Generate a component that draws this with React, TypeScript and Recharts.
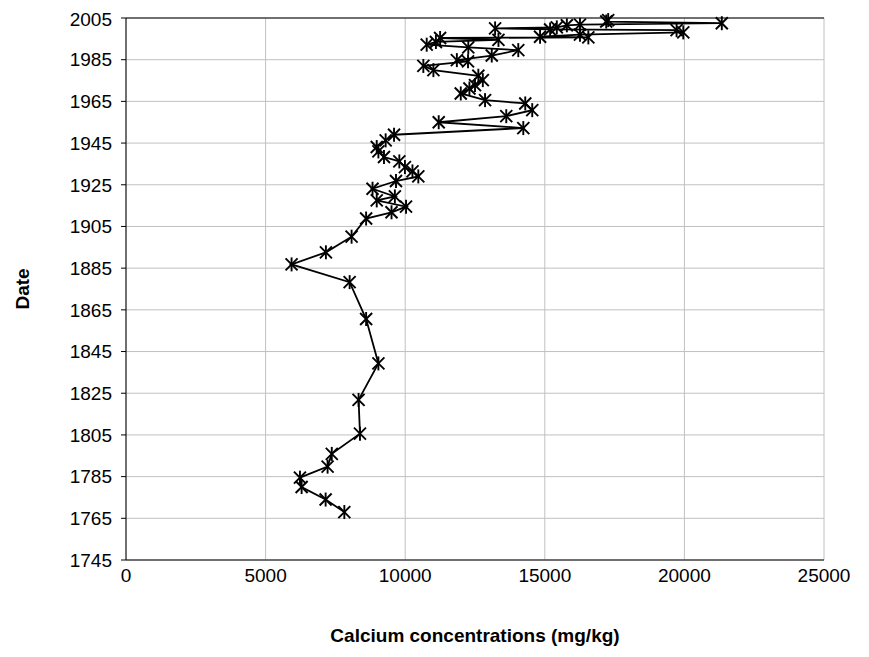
import React from "react";
import {
  ScatterChart,
  Scatter,
  XAxis,
  YAxis,
  CartesianGrid,
  ReferenceLine,
} from "recharts";

// newest first
const dates = [
  2004.0, 2003.3, 2002.5, 2001.8, 2001.5, 2000.5, 2000.0, 1999.5, 1999.2, 1998.1,
  1997.0, 1996.0, 1995.7, 1995.4, 1994.5, 1993.5, 1992.2, 1990.9, 1989.6, 1987.0,
  1984.8, 1984.2, 1982.0, 1980.0, 1977.3, 1975.2, 1972.8, 1971.2, 1968.8, 1965.6,
  1964.0, 1960.8, 1957.9, 1955.0, 1952.2, 1949.0, 1946.3, 1943.1, 1941.0, 1938.3,
  1936.2, 1933.5, 1931.4, 1929.0, 1926.8, 1923.1, 1919.4, 1917.5, 1914.5, 1911.8,
  1908.8, 1900.1, 1892.6, 1886.8, 1878.3, 1860.6, 1839.3, 1821.8, 1805.6, 1795.9,
  1789.8, 1784.5, 1780.0, 1774.0, 1768.0,
];

const calcium = [
  17270, 17200, 21340, 16260, 15790, 15430, 13220, 15190, 19720, 19960,
  16260, 14830, 16560, 11250, 13340, 11100, 10770, 12260, 14050, 13100,
  11850, 12250, 10650, 11010, 12620, 12780, 12500, 12300, 11990, 12860,
  14300, 14550, 13620, 11200, 14230, 9600, 9300, 8980, 9040, 9240,
  9790, 9990, 10260, 10470, 9670, 8830, 9630, 8980, 10030, 9510,
  8600, 8080, 7160, 5930, 8010, 8600, 9040, 8330, 8380, 7370,
  7220, 6230, 6290, 7150, 7820,
];

const xTicks = [0, 5000, 10000, 15000, 20000, 25000];
const yTicks = [1745, 1765, 1785, 1805, 1825, 1845, 1865, 1885, 1905, 1925, 1945, 1965, 1985, 2005];

const data = dates.map((d, i) => ({ date: d, ca: calcium[i] }));

const font = "'Liberation Sans', Arial, sans-serif";

const Asterisk = (props: any) => {
  const { cx, cy } = props;
  const r = 6;
  return (
    <g stroke="#000" strokeWidth={1.9}>
      <line x1={cx - r} y1={cy - r} x2={cx + r} y2={cy + r} />
      <line x1={cx - r} y1={cy + r} x2={cx + r} y2={cy - r} />
      <line x1={cx} y1={cy - r - 1} x2={cx} y2={cy + r + 1} />
    </g>
  );
};

const DateLabel = (props: any) => {
  const { viewBox } = props;
  const cy = viewBox.y + viewBox.height / 2;
  return (
    <text
      x={14}
      y={cy}
      transform={`rotate(-90, 14, ${cy})`}
      textAnchor="middle"
      dominantBaseline="central"
      fontFamily={font}
      fontWeight="bold"
      fontSize={19}
      fill="#000"
    >
      Date
    </text>
  );
};

export default function App() {
  return (
    <div style={{ width: 861, height: 641, background: "#fff" }}>
      <ScatterChart
        width={861}
        height={641}
        margin={{ top: 10, right: 45, bottom: 5, left: 0 }}
      >
        <CartesianGrid stroke="#c0c0c0" strokeWidth={1} />
        <XAxis
          type="number"
          dataKey="ca"
          domain={[0, 25000]}
          ticks={xTicks}
          tickLine={false}
          axisLine={{ stroke: "#000" }}
          tickMargin={3}
          height={84}
          tick={{ fontSize: 19, fill: "#000", fontFamily: font }}
          label={{
            value: "Calcium concentrations (mg/kg)",
            position: "insideBottom",
            offset: 2,
            style: { fontSize: 19, fontWeight: "bold", fill: "#000", fontFamily: font },
          }}
        />
        <YAxis
          type="number"
          dataKey="date"
          domain={[1745, 2005]}
          ticks={yTicks}
          width={118}
          tickSize={5}
          tickMargin={9}
          tickLine={{ stroke: "#000" }}
          axisLine={{ stroke: "#000" }}
          tick={{ fontSize: 19, fill: "#000", fontFamily: font }}
          label={<DateLabel />}
        />
        <ReferenceLine y={2005} stroke="#000" />
        <Scatter
          data={data}
          line={{ stroke: "#000", strokeWidth: 1.8 }}
          shape={<Asterisk />}
          isAnimationActive={false}
        />
      </ScatterChart>
    </div>
  );
}
